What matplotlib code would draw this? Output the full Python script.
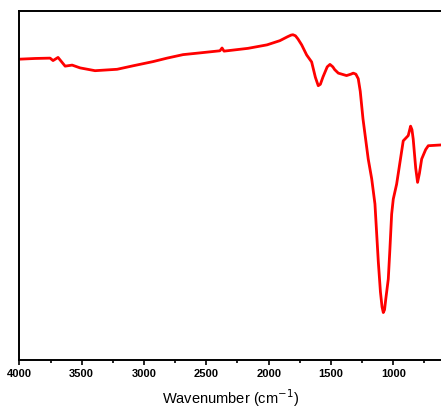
import matplotlib.pyplot as plt
from matplotlib.ticker import MultipleLocator

plt.rcParams['font.family'] = ['Liberation Sans', 'DejaVu Sans']

# FTIR spectrum (transmittance in arbitrary units, 0-100)
wavenumber = [4000, 3874, 3754, 3730, 3690, 3633, 3577, 3513, 3393, 3216,
              3088, 2928, 2815, 2687, 2551, 2391, 2374, 2358, 2286, 2166,
              2013, 1910, 1850, 1820, 1805, 1785, 1765, 1735, 1695, 1655,
              1625, 1602, 1585, 1564, 1530, 1508, 1485, 1470, 1441, 1375,
              1340, 1321, 1300, 1281, 1265, 1243, 1201, 1173, 1147, 1120,
              1103, 1090, 1080, 1070, 1060, 1040, 1027, 1013, 1000, 973,
              920, 880, 861, 850, 840, 820, 805, 790, 772, 740, 719, 626]
transmittance = [86.2, 86.4, 86.5, 85.8, 86.7, 84.2, 84.5, 83.7, 82.9, 83.3,
                 84.3, 85.5, 86.5, 87.5, 88.0, 88.6, 89.4, 88.5, 88.8, 89.3,
                 90.3, 91.5, 92.6, 93.1, 93.2, 92.9, 92.0, 90.3, 87.4, 85.4,
                 81.0, 78.6, 79.0, 81.1, 84.0, 84.7, 84.0, 83.2, 82.2, 81.5,
                 81.9, 82.2, 81.9, 80.6, 77.0, 69.1, 57.6, 51.9, 44.7, 28.1,
                 19.5, 15.2, 13.6, 14.4, 17.5, 23.2, 31.8, 41.8, 46.1, 50.4,
                 62.8, 64.3, 67.0, 66.0, 63.3, 55.0, 50.9, 53.5, 57.6, 60.3,
                 61.4, 61.6]

fig = plt.figure(figsize=(4.41, 4.14), dpi=100)
ax = fig.add_axes([0.044, 0.128, 0.956, 0.843])

ax.plot(wavenumber, transmittance, color='#ff0000', linewidth=2.0,
        solid_joinstyle='round')

ax.set_xlim(4000, 617)
ax.set_ylim(0, 100)
ax.xaxis.set_major_locator(MultipleLocator(500))
ax.xaxis.set_minor_locator(MultipleLocator(250))
ax.set_yticks([])
ax.tick_params(axis='x', which='major', direction='out', length=3.5, width=1.2,
               labelsize=8, pad=2)
ax.tick_params(axis='x', which='minor', direction='out', length=2.5, width=1.2)
for lbl in ax.get_xticklabels():
    lbl.set_fontweight('bold')

ax.spines['right'].set_visible(False)
for s in ['left', 'top', 'bottom']:
    ax.spines[s].set_linewidth(1.4)

ax.set_xlabel('Wavenumber (cm$^{-1}$)', fontsize=10.5, labelpad=6)

fig.savefig('out.png', dpi=100)
